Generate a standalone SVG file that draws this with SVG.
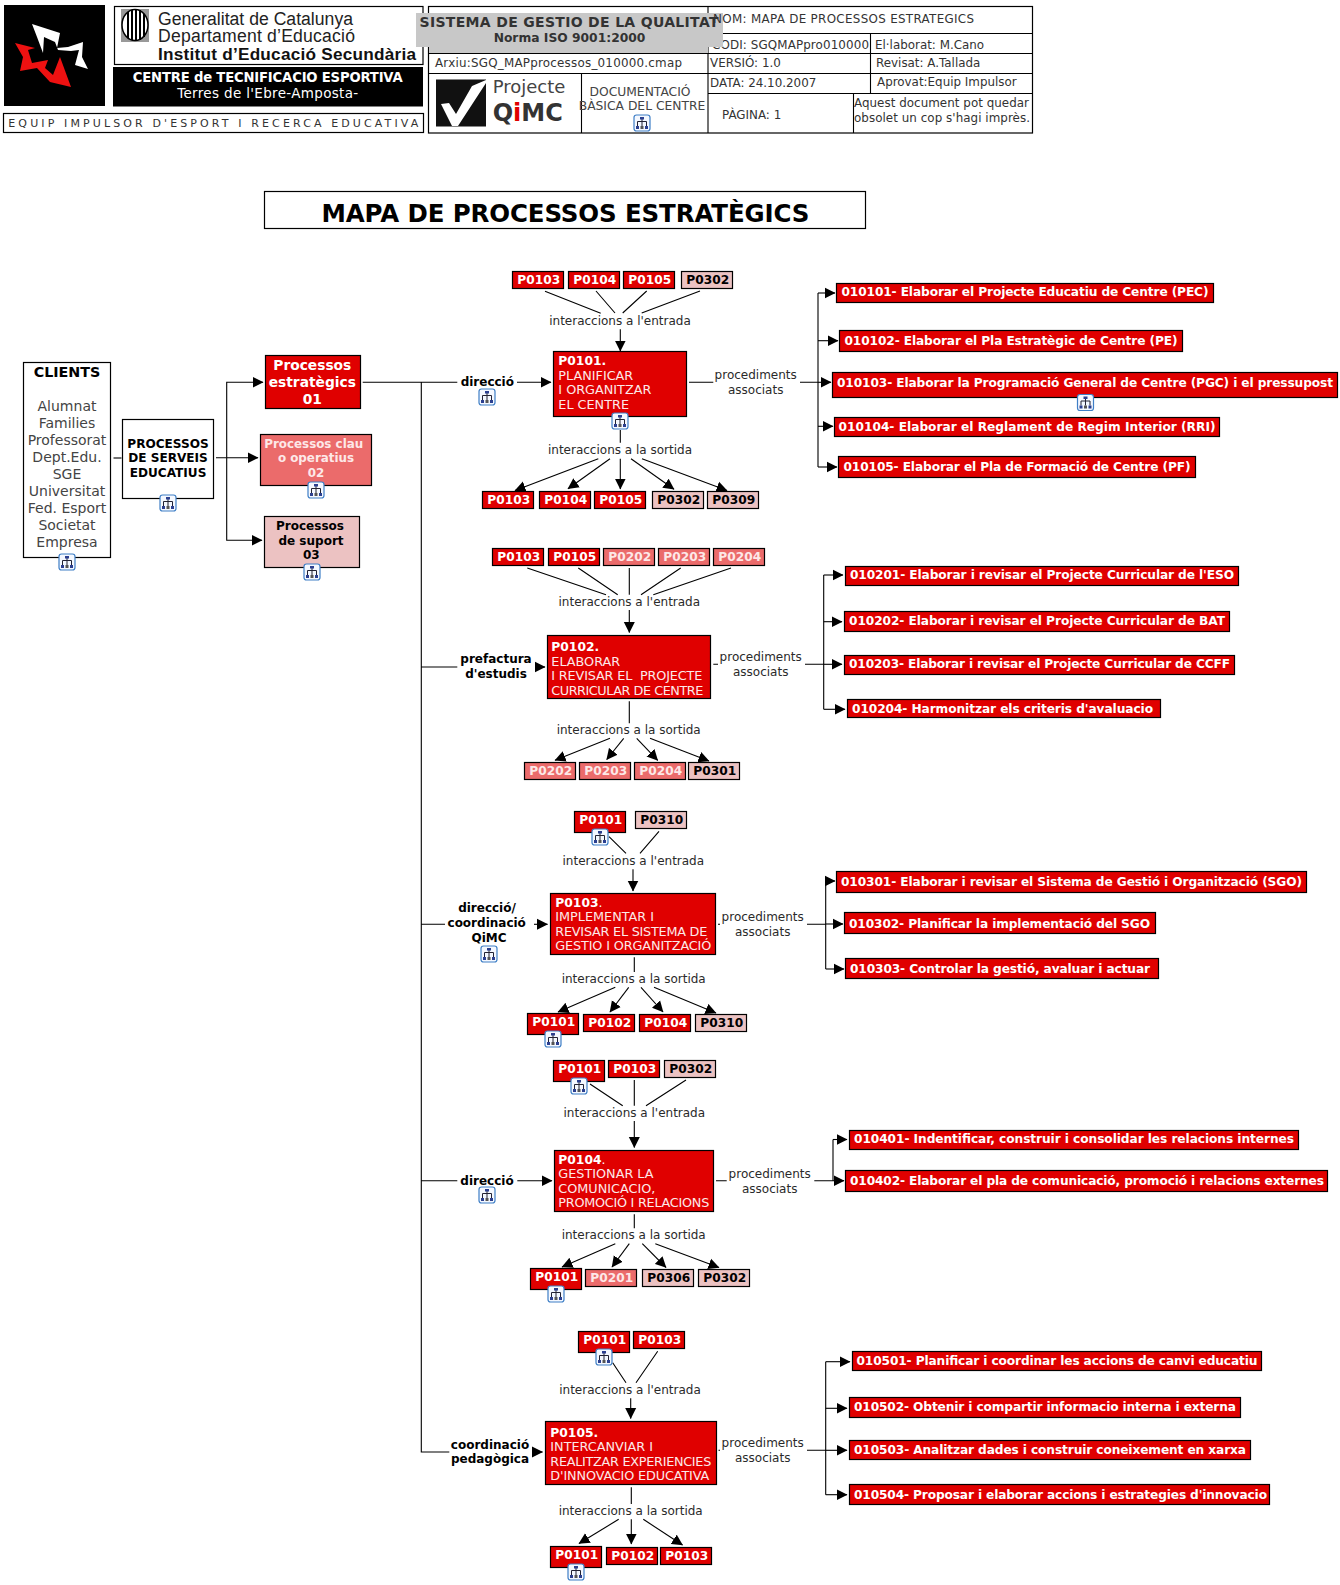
<svg xmlns="http://www.w3.org/2000/svg" xmlns:xlink="http://www.w3.org/1999/xlink" width="1340" height="1585" viewBox="0 0 1340 1585">
<style>
text{font-family:"DejaVu Sans",Verdana,sans-serif;fill:#2a2a2a;font-size:12px}
.b{font-weight:bold}
.c{text-anchor:middle}
.w{fill:#fff}
.k{fill:#000}
.box{stroke:#000;stroke-width:1.2}
.red{fill:#e00000}
.mid{fill:#eb6b6b}
.pink{fill:#ecc2c2}
.plain{fill:#fff;stroke:#000;stroke-width:1.2}
.chip{font-weight:bold;font-size:12.2px;text-anchor:middle;transform:translate(.7px,.4px)}
.ln{stroke:#000;stroke-width:1.1;fill:none}
.ar{stroke:#000;stroke-width:1.1;fill:none;marker-end:url(#ah)}
.step{fill:#fde8e8;font-size:12.8px}
.ttl{font-weight:bold;fill:#fff;font-size:12.3px}
.long{font-weight:bold;font-size:12.2px;fill:#fff}
.hd{font-size:11.9px;fill:#333}
.ls{font-size:14px;fill:#444;text-anchor:middle}
.ar2{font-family:"Liberation Sans",Arial,sans-serif;font-size:17.6px;fill:#222}
</style>
<defs>
<marker id="ah" markerUnits="userSpaceOnUse" markerWidth="12" markerHeight="12" viewBox="0 0 12 12" refX="10.5" refY="6" orient="auto"><path d="M0,0.5 L11,6 L0,11.5z" fill="#000"/></marker>
<g id="ic">
<rect x="-8" y="-8" width="16" height="16" rx="2.5" fill="#f4f8ff" stroke="#3f7fc6" stroke-width="1.2"/>
<path d="M0,-4V-1.500M-4.500,3V-1.500H4.500V3M0,-1.500V3" fill="none" stroke="#223" stroke-width="1"/>
<rect x="-2" y="-6" width="4" height="2.500" fill="#2b3f8f"/><rect x="-6" y="3" width="3" height="3" fill="#2b3f8f"/><rect x="-1.500" y="3" width="3" height="3" fill="#555"/><rect x="3" y="3" width="3" height="3" fill="#2b3f8f"/>
</g>
</defs>
<rect width="1340" height="1585" fill="#fff"/>

<g id="header">
<g id="logo"><rect x="4" y="5" width="101" height="101" fill="#000"/>
<path d="M32,24 L60,33 L57,48 L68,47 L83,42 L82,57 L88,69 L75,65 L79,50 L71,51 L58,50 L55,42 L44,37 L43,53 L37,37z" fill="#fff"/>
<path d="M15,43 L35,48 L28,50 L32,63 L48,60 L45,68 L53,75 L60,57 L71,87 L50,82 L37,68 L20,71 L23,57z" fill="#ee1111"/></g>
<g id="generalitat"><rect class="plain" x="114.500" y="6.500" width="308.500" height="58"/>
<rect x="121" y="9" width="28" height="33" fill="#999"/><ellipse cx="135" cy="25" rx="13" ry="15.500" fill="#fff" stroke="#000" stroke-width="1.5"/>
<path d="M128,12V38M132,10V40M136,10V40M140,10V40M144,14V37" stroke="#000" stroke-width="2" fill="none"/>
<text class="ar2" x="158" y="24.700" textLength="195">Generalitat de Catalunya</text>
<text class="ar2" x="158" y="42.300" textLength="197">Departament d’Educació</text>
<text class="ar2" x="158" y="60" style="font-weight:bold;fill:#111;font-size:17.200px" textLength="258">Institut d’Educació Secundària</text></g>
<g id="centre"><rect x="113" y="67" width="310" height="39.500" fill="#000"/>
<text class="w b c" x="267.700" y="82" style="font-size:13.200px" textLength="270">CENTRE de TECNIFICACIO ESPORTIVA</text>
<text class="w c" x="267.700" y="98" style="font-size:13.500px" textLength="181">Terres de l'Ebre-Amposta-</text></g>
<g id="equip"><rect class="plain" x="3.500" y="113.500" width="420" height="19"/>
<text x="8.300" y="127" style="font-size:11px;fill:#333" textLength="410">EQUIP IMPULSOR D'ESPORT I RECERCA EDUCATIVA</text></g>
<g id="table">
<rect class="plain" x="428.500" y="6.500" width="604" height="126.500"/>
<path class="ln" d="M708,6.500V133M429,53.500H1032M429,73.500H1032M708,33.500H1032M708,93.500H1032M581.500,73.500V133M870.500,33.500V93.500M853.500,93.500V133"/>
<text class="hd" x="712" y="48.500" textLength="157">CODI: SGQMAPpro010000</text>
<text class="hd" x="875" y="49">El·laborat: M.Cano</text>
<text class="hd" x="435" y="66.700" textLength="247">Arxiu:SGQ_MAPprocessos_010000.cmap</text>
<text class="hd" x="710" y="66.700">VERSIÓ: 1.0</text>
<text class="hd" x="876" y="66.700">Revisat: A.Tallada</text>
<text class="hd" x="710" y="86.700">DATA: 24.10.2007</text>
<text class="hd" x="877" y="86">Aprovat:Equip Impulsor</text>
<rect x="436" y="79.500" width="50" height="47" fill="#111"/>
<path d="M441,104 L449,103 L456,114 L472,86 L486,80 L486,83 L458,126 L452,126z" fill="#fff"/>
<text x="492.700" y="92.700" style="font-size:18px;fill:#444">Projecte</text>
<text class="b" x="492.700" y="121" style="font-size:24px;fill:#333">Q<tspan fill="#e00000">i</tspan>MC</text>
<text class="hd c" x="640" y="96" style="font-size:12.300px;fill:#444">DOCUMENTACIÓ</text>
<text class="hd c" x="642" y="110" style="font-size:12.300px;fill:#444">BÀSICA DEL CENTRE</text>
<use xlink:href="#ic" href="#ic" x="642" y="123"/>
<text class="hd" x="722" y="118.500">PÀGINA: 1</text>
<text class="hd" x="854" y="106.500" textLength="175">Aquest document pot quedar</text>
<text class="hd" x="854" y="122.300" textLength="176">obsolet un cop s'hagi imprès.</text>
<rect x="416" y="13" width="307" height="34" fill="#c8c8c8"/><rect x="429" y="13" width="279" height="40" fill="#c8c8c8"/>
<text class="hd" x="713" y="23.300" textLength="261">NOM: MAPA DE PROCESSOS ESTRATEGICS</text>
<text class="b c" x="569" y="27" style="font-size:14px;fill:#333" textLength="299">SISTEMA DE GESTIO DE LA QUALITAT</text>
<text class="b c" x="569.500" y="41.800" style="font-size:12.300px;fill:#333">Norma ISO 9001:2000</text>
</g>
</g>

<g id="title"><rect class="plain" x="264.500" y="191.500" width="601" height="37"/>
<text class="b k" x="321.500" y="221.700" style="font-size:24.500px" textLength="488">MAPA DE PROCESSOS ESTRATÈGICS</text></g>

<g id="connectors">
<path class="ln" d="M113.500,458H121.500"/>
<path class="ar" d="M216,457.700H258"/>
<path class="ar" d="M226.700,457.700V382.300H263"/>
<path class="ar" d="M226.700,457.700V540.300H262"/>
<path class="ln" d="M362.700,382.300H457.300M421.300,382.300V1452H449.300M421.300,667H457.300M421.300,924.300H445M421.300,1180.700H457.300"/>

<path class="ar" d="M517,382.300H551"/>
<path class="ln" d="M545,291.300L600.700,313.300M596,291L615,313M646.700,291L622.700,313M700,291L641.700,313"/>
<path class="ar" d="M620.300,329.300V351"/>
<path class="ln" d="M620.300,430V442.700"/>
<path class="ar" d="M598.300,458.700L515,490.500"/><path class="ar" d="M610,458.700L568,488.800"/><path class="ar" d="M620.300,458.700V489"/><path class="ar" d="M631,458.700L674,489.300"/><path class="ar" d="M642,458.700L727,490.500"/>
<path class="ln" d="M689,382.300H713.300M800,382.300H818M818,293V467"/>
<path class="ar" d="M818,293H835"/><path class="ar" d="M818,340.700H838"/><path class="ar" d="M818,382.300H831"/><path class="ar" d="M818,426.300H833"/><path class="ar" d="M818,467H837"/>

<path class="ar" d="M535,667H545"/>
<path class="ln" d="M527.300,568L606,594.700M578.300,568L617.700,594.700M629.300,568V594.700M680.700,568L641,594.700M731,568L653.300,594.700"/>
<path class="ar" d="M629.300,610V632.500"/>
<path class="ln" d="M629.300,701.300V723.300"/>
<path class="ar" d="M610,738.300L555,760.300"/><path class="ar" d="M623.700,738.300L606.700,759.500"/><path class="ar" d="M636.700,738.300L657.700,760.300"/><path class="ar" d="M650,738.300L709,761"/>
<path class="ln" d="M713.300,664.300H718M805,664.300H823.700M823.700,575V709.300"/>
<path class="ar" d="M823.700,575H843"/><path class="ar" d="M823.700,621.700H842"/><path class="ar" d="M823.700,664.300H842"/><path class="ar" d="M823.700,709.300H845"/>

<path class="ar" d="M534,924.300H547.500"/>
<path class="ln" d="M609,836.700L626,853.300M659,831.300L640,853.300"/>
<path class="ar" d="M633,869.300V891"/>
<path class="ln" d="M634.300,957.300V972"/>
<path class="ar" d="M615.300,987.300L558,1012"/><path class="ar" d="M628.700,987.300L610,1012"/><path class="ar" d="M641,987.300L663,1012"/><path class="ar" d="M654,987.300L716,1013"/>
<path class="ln" d="M718,924.300H720M807,924.300H825.700M825.700,881V969"/>
<path class="ar" d="M825.700,881H835"/><path class="ar" d="M825.700,924H843"/><path class="ar" d="M825.700,969H844"/>

<path class="ar" d="M517.300,1180.700H552"/>
<path class="ln" d="M590,1084L622.700,1105.700M634.300,1080V1105.700M686,1080L646,1105.700"/>
<path class="ar" d="M634.300,1121V1147.500"/>
<path class="ln" d="M634.300,1214.300V1228.300"/>
<path class="ar" d="M615.300,1243.700L562,1267"/><path class="ar" d="M629.300,1243.700L612,1267"/><path class="ar" d="M642.300,1243.700L666,1267.500"/><path class="ar" d="M655.300,1243.700L719,1267.500"/>
<path class="ln" d="M716,1180.700H726.700M814.300,1180.700H833M833,1139.500V1180.700"/>
<path class="ar" d="M833,1139.500H847"/><path class="ar" d="M833,1180.700H844"/>

<path class="ar" d="M532,1452H542.500"/>
<path class="ln" d="M612.700,1362.700L626,1382.700M657.700,1351.300L636,1382.700"/>
<path class="ar" d="M630.700,1398.300V1418.500"/>
<path class="ln" d="M631.300,1487.300V1504"/>
<path class="ar" d="M618.700,1519.300L579,1543.500"/><path class="ar" d="M631.300,1519.300V1544"/><path class="ar" d="M643.300,1519.300L682.500,1545"/>
<path class="ln" d="M718.500,1450.300H720M807,1450.300H825.700M825.700,1361.700V1494.700"/>
<path class="ar" d="M825.700,1361.700H850"/><path class="ar" d="M825.700,1408.300H847"/><path class="ar" d="M825.700,1450.300H847"/><path class="ar" d="M825.700,1494.700H847"/>
</g>

<g id="clients"><rect class="plain" x="23.500" y="362.500" width="87" height="195"/>
<text class="b c k" x="67" y="376.500" style="font-size:14.300px">CLIENTS</text>
<text class="ls" x="67" y="410.500">Alumnat</text><text class="ls" x="67" y="427.500">Families</text><text class="ls" x="67" y="444.500">Professorat</text><text class="ls" x="67" y="461.500">Dept.Edu.</text><text class="ls" x="67" y="478.500">SGE</text><text class="ls" x="67" y="495.500">Universitat</text><text class="ls" x="67" y="512.500">Fed. Esport</text><text class="ls" x="67" y="529.500">Societat</text><text class="ls" x="67" y="546.500">Empresa</text>
<use xlink:href="#ic" href="#ic" x="67" y="562"/></g>
<g id="serveis"><rect class="plain" x="122.500" y="419.500" width="91" height="79"/>
<text class="b c k" x="168" y="447.700" style="font-size:12.100px">PROCESSOS</text><text class="b c k" x="168" y="462.300" style="font-size:12.100px">DE SERVEIS</text><text class="b c k" x="168" y="476.700" style="font-size:12.100px">EDUCATIUS</text>
<use xlink:href="#ic" href="#ic" x="168" y="503"/></g>
<g id="estrategics"><rect class="box red" x="265.500" y="355.500" width="95" height="53"/>
<text class="b c w" x="312.300" y="370.300" style="font-size:13.800px">Processos</text><text class="b c w" x="312.300" y="387.300" style="font-size:13.800px">estratègics</text><text class="b c w" x="312.300" y="404.300" style="font-size:13.800px">01</text></g>
<g id="clau"><rect class="box mid" x="260.500" y="434.500" width="111" height="51"/>
<text class="b c" x="313.700" y="447.700" style="font-size:11.900px;fill:#fde8e8">Processos clau</text><text class="b c" x="316" y="462.300" style="font-size:11.900px;fill:#fde8e8">o operatius</text><text class="b c" x="316" y="476.700" style="font-size:11.900px;fill:#fde8e8">02</text>
<use xlink:href="#ic" href="#ic" x="316" y="490"/></g>
<g id="suport"><rect class="box pink" x="264.500" y="516.500" width="95" height="51"/>
<text class="b c k" x="310" y="530" style="font-size:12px">Processos</text><text class="b c k" x="311" y="544.500" style="font-size:12px">de suport</text><text class="b c k" x="311.300" y="558.700" style="font-size:12px">03</text>
<use xlink:href="#ic" href="#ic" x="312" y="572"/></g>

<g id="labels">
<text class="b c k" x="487.300" y="386.300">direcció</text><use xlink:href="#ic" href="#ic" x="487" y="397"/>
<text class="c" x="620" y="325">interaccions a l'entrada</text><text class="c" x="620" y="454">interaccions a la sortida</text>
<text class="c" x="755.700" y="379">procediments</text><text class="c" x="755.700" y="393.700">associats</text>
<text class="b c k" x="496" y="663.300">prefactura</text><text class="b c k" x="496" y="678">d'estudis</text>
<text class="c" x="629.300" y="605.700">interaccions a l'entrada</text><text class="c" x="628.700" y="733.700">interaccions a la sortida</text>
<text class="c" x="760.700" y="661">procediments</text><text class="c" x="760.700" y="675.500">associats</text>
<text class="b c k" x="487" y="912.300">direcció/</text><text class="b c k" x="486.700" y="927.300">coordinació</text><text class="b c k" x="489" y="941.700">QiMC</text><use xlink:href="#ic" href="#ic" x="489" y="954"/>
<text class="c" x="633.300" y="865">interaccions a l'entrada</text><text class="c" x="633.700" y="982.700">interaccions a la sortida</text>
<text class="c" x="762.700" y="921">procediments</text><text class="c" x="762.700" y="935.500">associats</text>
<text class="b c k" x="487" y="1184.500">direcció</text><use xlink:href="#ic" href="#ic" x="487" y="1195"/>
<text class="c" x="634.300" y="1116.700">interaccions a l'entrada</text><text class="c" x="633.700" y="1238.700">interaccions a la sortida</text>
<text class="c" x="769.700" y="1178">procediments</text><text class="c" x="769.700" y="1192.700">associats</text>
<text class="b c k" x="490" y="1449">coordinació</text><text class="b c k" x="490" y="1463.300">pedagògica</text>
<text class="c" x="630" y="1394">interaccions a l'entrada</text><text class="c" x="630.700" y="1515">interaccions a la sortida</text>
<text class="c" x="762.700" y="1447">procediments</text><text class="c" x="762.700" y="1461.500">associats</text>
</g>

<g id="P0101"><rect class="box red" x="553.500" y="351.500" width="133" height="65"/>
<text class="ttl" x="558.300" y="365">P0101.</text><text class="step" x="558.300" y="379.700">PLANIFICAR</text><text class="step" x="558.300" y="394.300">I ORGANITZAR</text><text class="step" x="558.300" y="408.700">EL CENTRE</text>
<use xlink:href="#ic" href="#ic" x="620" y="421"/></g>
<g id="P0102"><rect class="box red" x="547.500" y="635.500" width="163" height="63"/>
<text class="ttl" x="551.300" y="651">P0102.</text><text class="step" x="551.300" y="665.700">ELABORAR</text><text class="step" x="551.300" y="680" textLength="151" xml:space="preserve">I REVISAR EL  PROJECTE</text><text class="step" x="551.300" y="694.700" textLength="152">CURRICULAR DE CENTRE</text></g>
<g id="P0103"><rect class="box red" x="550.500" y="893.500" width="165" height="61"/>
<text class="ttl" x="555.300" y="906.700">P0103<tspan style="font-weight:normal">.</tspan></text><text class="step" x="555.300" y="921.300">IMPLEMENTAR I</text><text class="step" x="555.300" y="935.700" textLength="152">REVISAR EL SISTEMA DE</text><text class="step" x="555.300" y="950.300" textLength="156">GESTIO I ORGANITZACIÓ</text></g>
<g id="P0104"><rect class="box red" x="554.500" y="1150.500" width="159" height="61"/>
<text class="ttl" x="558.300" y="1164">P0104<tspan style="font-weight:normal">.</tspan></text><text class="step" x="558.300" y="1178.300">GESTIONAR LA</text><text class="step" x="558.300" y="1192.700">COMUNICACIO,</text><text class="step" x="558.300" y="1207.300" textLength="151">PROMOCIÓ I RELACIONS</text></g>
<g id="P0105"><rect class="box red" x="545.500" y="1421.500" width="171" height="63"/>
<text class="ttl" x="550.300" y="1436.700">P0105.</text><text class="step" x="550.300" y="1451.300">INTERCANVIAR I</text><text class="step" x="550.300" y="1465.700" textLength="161">REALITZAR EXPERIENCIES</text><text class="step" x="550.300" y="1480.300" textLength="159">D'INNOVACIO EDUCATIVA</text></g>

<g id="chips">
<g id="c1a"><rect class="box red" x="512.500" y="271.500" width="51" height="17"/><text class="chip w" x="538" y="284">P0103</text></g>
<g id="c1b"><rect class="box red" x="568.500" y="271.500" width="51" height="17"/><text class="chip w" x="594" y="284">P0104</text></g>
<g id="c1c"><rect class="box red" x="623.500" y="271.500" width="51" height="17"/><text class="chip w" x="649" y="284">P0105</text></g>
<g id="c1d"><rect class="box pink" x="681.500" y="271.500" width="51" height="17"/><text class="chip k" x="707" y="284">P0302</text></g>
<g id="c1e"><rect class="box red" x="482.500" y="491.500" width="51" height="17"/><text class="chip w" x="508" y="504">P0103</text></g>
<g id="c1f"><rect class="box red" x="539.500" y="491.500" width="51" height="17"/><text class="chip w" x="565" y="504">P0104</text></g>
<g id="c1g"><rect class="box red" x="594.500" y="491.500" width="51" height="17"/><text class="chip w" x="620" y="504">P0105</text></g>
<g id="c1h"><rect class="box pink" x="652.500" y="491.500" width="51" height="17"/><text class="chip k" x="678" y="504">P0302</text></g>
<g id="c1i"><rect class="box pink" x="707.500" y="491.500" width="51" height="17"/><text class="chip k" x="733" y="504">P0309</text></g>

<g id="c2a"><rect class="box red" x="492.500" y="548.500" width="51" height="17"/><text class="chip w" x="518" y="561">P0103</text></g>
<g id="c2b"><rect class="box red" x="548.500" y="548.500" width="51" height="17"/><text class="chip w" x="574" y="561">P0105</text></g>
<g id="c2c"><rect class="box mid" x="603.500" y="548.500" width="51" height="17"/><text class="chip w" x="629" y="561" style="fill:#fde8e8">P0202</text></g>
<g id="c2d"><rect class="box mid" x="658.500" y="548.500" width="51" height="17"/><text class="chip w" x="684" y="561" style="fill:#fde8e8">P0203</text></g>
<g id="c2e"><rect class="box mid" x="713.500" y="548.500" width="51" height="17"/><text class="chip w" x="739" y="561" style="fill:#fde8e8">P0204</text></g>
<g id="c2f"><rect class="box mid" x="524.500" y="762.500" width="51" height="17"/><text class="chip w" x="550" y="775" style="fill:#fde8e8">P0202</text></g>
<g id="c2g"><rect class="box mid" x="579.500" y="762.500" width="51" height="17"/><text class="chip w" x="605" y="775" style="fill:#fde8e8">P0203</text></g>
<g id="c2h"><rect class="box mid" x="634.500" y="762.500" width="51" height="17"/><text class="chip w" x="660" y="775" style="fill:#fde8e8">P0204</text></g>
<g id="c2i"><rect class="box pink" x="688.500" y="762.500" width="51" height="17"/><text class="chip k" x="714" y="775">P0301</text></g>

<g id="c3a"><rect class="box red" x="574.500" y="811.500" width="51" height="21"/><text class="chip w" x="600" y="823.300">P0101</text><use xlink:href="#ic" href="#ic" x="600" y="837"/></g>
<g id="c3b"><rect class="box pink" x="635.500" y="811.500" width="51" height="17"/><text class="chip k" x="661" y="824">P0310</text></g>
<g id="c3c"><rect class="box red" x="527.500" y="1013.500" width="51" height="21"/><text class="chip w" x="553" y="1025.300">P0101</text><use xlink:href="#ic" href="#ic" x="553" y="1039"/></g>
<g id="c3d"><rect class="box red" x="583.500" y="1014.500" width="51" height="17"/><text class="chip w" x="609" y="1027">P0102</text></g>
<g id="c3e"><rect class="box red" x="639.500" y="1014.500" width="51" height="17"/><text class="chip w" x="665" y="1027">P0104</text></g>
<g id="c3f"><rect class="box pink" x="695.500" y="1014.500" width="51" height="17"/><text class="chip k" x="721" y="1027">P0310</text></g>

<g id="c4a"><rect class="box red" x="553.500" y="1060.500" width="51" height="21"/><text class="chip w" x="579" y="1072.300">P0101</text><use xlink:href="#ic" href="#ic" x="579" y="1086"/></g>
<g id="c4b"><rect class="box red" x="608.500" y="1060.500" width="51" height="17"/><text class="chip w" x="634" y="1073">P0103</text></g>
<g id="c4c"><rect class="box pink" x="664.500" y="1060.500" width="51" height="17"/><text class="chip k" x="690" y="1073">P0302</text></g>
<g id="c4d"><rect class="box red" x="530.500" y="1268.500" width="51" height="21"/><text class="chip w" x="556" y="1280.700">P0101</text><use xlink:href="#ic" href="#ic" x="556" y="1294"/></g>
<g id="c4e"><rect class="box mid" x="585.500" y="1269.500" width="51" height="17"/><text class="chip w" x="611" y="1282" style="fill:#fde8e8">P0201</text></g>
<g id="c4f"><rect class="box pink" x="642.500" y="1269.500" width="51" height="17"/><text class="chip k" x="668" y="1282">P0306</text></g>
<g id="c4g"><rect class="box pink" x="698.500" y="1269.500" width="51" height="17"/><text class="chip k" x="724" y="1282">P0302</text></g>

<g id="c5a"><rect class="box red" x="578.500" y="1331.500" width="51" height="21"/><text class="chip w" x="604" y="1343.300">P0101</text><use xlink:href="#ic" href="#ic" x="604" y="1357"/></g>
<g id="c5b"><rect class="box red" x="633.500" y="1331.500" width="51" height="17"/><text class="chip w" x="659" y="1344">P0103</text></g>
<g id="c5c"><rect class="box red" x="550.500" y="1546.500" width="51" height="21"/><text class="chip w" x="576" y="1558.300">P0101</text><use xlink:href="#ic" href="#ic" x="576" y="1572"/></g>
<g id="c5d"><rect class="box red" x="606.500" y="1547.500" width="51" height="17"/><text class="chip w" x="632" y="1560">P0102</text></g>
<g id="c5e"><rect class="box red" x="660.500" y="1547.500" width="51" height="17"/><text class="chip w" x="686" y="1560">P0103</text></g>
</g>

<g id="procediments">
<g id="p010101"><rect class="box red" x="836.500" y="283.500" width="377" height="19"/><text class="long" x="841.500" y="296" textLength="367">010101- Elaborar el Projecte Educatiu de Centre (PEC)</text></g>
<g id="p010102"><rect class="box red" x="839.500" y="330.500" width="343" height="21"/><text class="long" x="844.500" y="345" textLength="333">010102- Elaborar el Pla Estratègic de Centre (PE)</text></g>
<g id="p010103"><rect class="box red" x="832.500" y="372.500" width="505" height="25"/><text class="long" x="837" y="387" textLength="496">010103- Elaborar la Programació General de Centre (PGC) i el pressupost</text><use xlink:href="#ic" href="#ic" x="1085.500" y="402.500"/></g>
<g id="p010104"><rect class="box red" x="834.500" y="417.500" width="385" height="19"/><text class="long" x="838.500" y="430.500" textLength="377">010104- Elaborar el Reglament de Regim Interior (RRI)</text></g>
<g id="p010105"><rect class="box red" x="838.500" y="456.500" width="357" height="21"/><text class="long" x="843.500" y="471" textLength="347">010105- Elaborar el Pla de Formació de Centre (PF)</text></g>

<g id="p010201"><rect class="box red" x="845.500" y="566.500" width="393" height="19"/><text class="long" x="850" y="579" textLength="384">010201- Elaborar i revisar el Projecte Curricular de l'ESO</text></g>
<g id="p010202"><rect class="box red" x="844.500" y="611.500" width="385" height="20"/><text class="long" x="849" y="625.300" textLength="376">010202- Elaborar i revisar el Projecte Curricular de BAT</text></g>
<g id="p010203"><rect class="box red" x="844.500" y="655.500" width="390" height="19"/><text class="long" x="849" y="668.300" textLength="381">010203- Elaborar i revisar el Projecte Curricular de CCFF</text></g>
<g id="p010204"><rect class="box red" x="847.500" y="699.500" width="313" height="18"/><text class="long" x="852" y="713.300" textLength="301">010204- Harmonitzar els criteris d'avaluacio</text></g>

<g id="p010301"><rect class="box red" x="836.500" y="871.500" width="470" height="21"/><text class="long" x="841" y="885.500" textLength="461">010301- Elaborar i revisar el Sistema de Gestió i Organització (SGO)</text></g>
<g id="p010302"><rect class="box red" x="844.500" y="912.500" width="311" height="21"/><text class="long" x="849" y="927.700" textLength="301">010302- Planificar la implementació del SGO</text></g>
<g id="p010303"><rect class="box red" x="845.500" y="958.500" width="313" height="20"/><text class="long" x="850" y="972.700" textLength="300">010303- Controlar la gestió, avaluar i actuar</text></g>

<g id="p010401"><rect class="box red" x="849.500" y="1130.500" width="449" height="19"/><text class="long" x="854" y="1143.300" textLength="440">010401- Indentificar, construir i consolidar les relacions internes</text></g>
<g id="p010402"><rect class="box red" x="845.500" y="1170.500" width="482" height="21"/><text class="long" x="850" y="1184.800" textLength="474">010402- Elaborar el pla de comunicació, promoció i relacions externes</text></g>

<g id="p010501"><rect class="box red" x="852.500" y="1351.500" width="409" height="19"/><text class="long" x="856.500" y="1365" textLength="401">010501- Planificar i coordinar les accions de canvi educatiu</text></g>
<g id="p010502"><rect class="box red" x="849.500" y="1397.500" width="391" height="20"/><text class="long" x="854" y="1411.300" textLength="382">010502- Obtenir i compartir informacio interna i externa</text></g>
<g id="p010503"><rect class="box red" x="849.500" y="1440.500" width="401" height="19"/><text class="long" x="854" y="1454" textLength="392">010503- Analitzar dades i construir coneixement en xarxa</text></g>
<g id="p010504"><rect class="box red" x="849.500" y="1484.500" width="420" height="20"/><text class="long" x="854" y="1498.500" textLength="413">010504- Proposar i elaborar accions i estrategies d'innovacio</text></g>
</g>
</svg>
